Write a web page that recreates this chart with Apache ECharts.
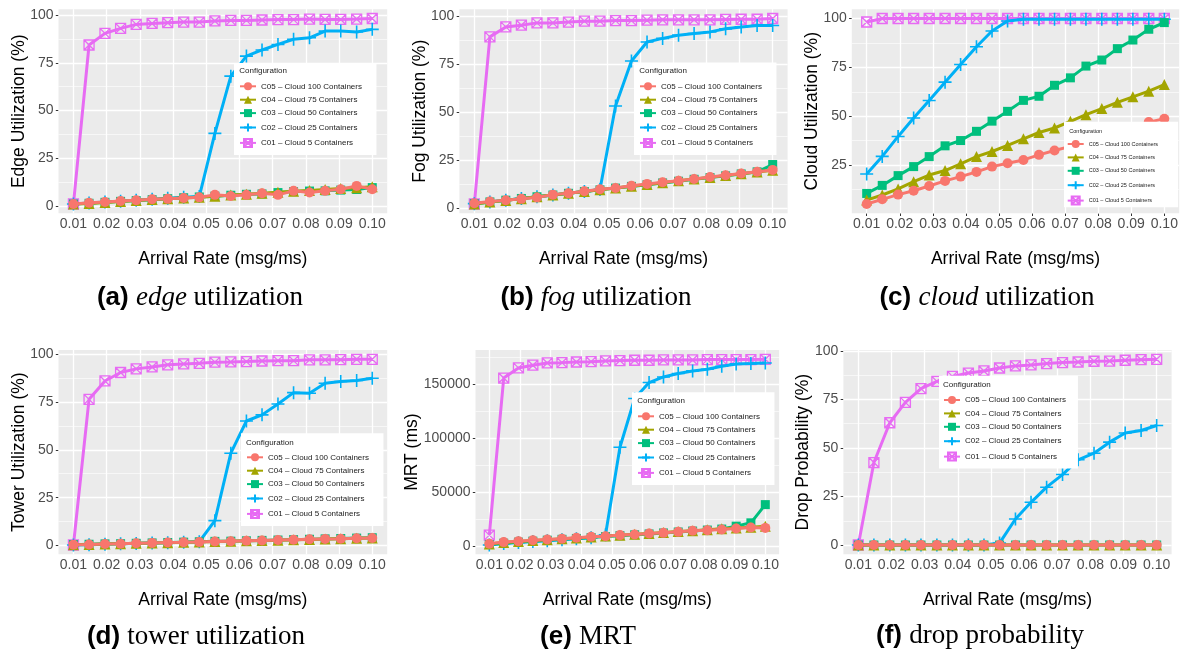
<!DOCTYPE html>
<html><head><meta charset="utf-8">
<script src="https://cdn.jsdelivr.net/npm/echarts@6/dist/echarts.min.js"></script>
<style>html,body{margin:0;padding:0;background:#fff}#c{width:1184px;height:655px}</style>
</head><body><div id="c"></div>
<script>
// ---------- DATA ----------
const arrivalRates = [0.0100,0.0147,0.0195,0.0242,0.0289,0.0337,0.0384,0.0432,0.0479,0.0526,0.0574,0.0621,0.0668,0.0716,0.0763,0.0811,0.0858,0.0905,0.0953,0.1000];
const seriesNames = ['C05 – Cloud 100 Containers','C04 – Cloud 75 Containers','C03 – Cloud 50 Containers','C02 – Cloud 25 Containers','C01 – Cloud 5 Containers'];
const xTicks = [0.01,0.02,0.03,0.04,0.05,0.06,0.07,0.08,0.09,0.10];
const pctTicks = [0,25,50,75,100];
const cloudTicks = [25,50,75,100];
const mrtTicks = [0,50000,100000,150000];

// (a) edge utilization
const edgeC05 = [1.0,1.7,2.1,2.6,3.0,3.5,3.7,4.2,4.5,5.8,5.2,5.8,6.6,5.8,7.9,7.0,7.9,8.7,10.5,8.7];
const edgeC04 = [1.0,1.3,1.8,2.3,2.9,3.4,3.8,4.2,4.6,5.1,5.7,6.1,6.7,7.2,7.7,8.1,8.6,9.1,9.5,10.0];
const edgeC03 = [1.0,1.4,1.9,2.4,2.8,3.3,3.8,4.3,4.7,5.1,5.6,6.1,6.3,7.0,7.5,7.8,7.9,8.3,8.6,9.6];
const edgeC02 = [1.0,1.5,2.0,2.5,3.0,3.5,4.0,4.5,4.9,38.0,68.0,78.5,81.7,84.6,87.3,88.1,91.6,91.6,91.1,92.5];
const edgeC01 = [1.0,84.3,90.4,93.0,95.1,95.6,96.0,96.3,96.3,96.9,97.2,97.2,97.4,97.6,97.6,97.9,97.7,97.7,97.9,98.2];
// (b) fog utilization
const fogC05 = [2.4,3.3,4.0,4.7,5.4,6.9,7.6,8.7,9.7,10.4,11.5,12.5,13.4,14.1,15.1,16.1,17.0,17.9,18.8,19.8];
const fogC04 = [2.0,3.0,3.9,4.8,5.8,6.7,7.6,8.5,9.5,10.4,11.3,12.2,13.1,14.1,15.0,15.9,16.9,17.8,18.7,19.6];
const fogC03 = [2.2,3.1,4.0,4.9,5.8,6.7,7.6,8.5,9.4,10.3,11.2,12.1,13.0,13.9,14.9,15.8,16.7,17.7,18.8,22.6];
const fogC02 = [2.2,3.1,4.0,4.9,5.8,6.7,7.6,8.5,9.6,53.1,76.6,86.5,88.4,90.1,91.0,91.8,93.4,94.4,95.1,95.1];
const fogC01 = [2.0,89.2,94.4,95.3,96.5,96.5,96.9,97.4,97.4,97.7,97.7,97.9,98.1,98.1,98.1,98.1,98.3,98.4,98.4,98.8];
// (c) cloud utilization
const cloudC05 = [5.2,7.6,10.0,12.0,14.4,17.0,19.2,21.6,24.3,26.0,27.7,30.3,32.5,34.6,37.0,39.5,41.8,44.2,47.0,48.7];
const cloudC04 = [7.2,9.8,12.9,16.6,20.0,22.3,25.7,29.4,32.0,35.1,38.5,41.7,44.0,47.4,50.8,53.9,57.1,59.9,62.8,66.2];
const cloudC03 = [10.6,14.7,19.7,24.3,29.4,34.9,37.6,42.3,47.5,52.5,58.1,60.2,65.8,69.6,75.6,78.7,84.5,88.9,94.4,97.8];
const cloudC02 = [20.5,29.5,39.7,49.1,58.0,67.4,76.4,85.5,93.5,98.6,99.5,99.5,99.5,99.5,99.5,99.5,99.5,99.5,99.5,99.5];
const cloudC01 = [98.1,99.9,99.9,99.9,99.9,99.9,99.9,99.9,99.9,99.9,99.9,99.9,99.9,99.9,99.9,99.9,99.9,99.9,99.9,99.9];
// (d) tower utilization
const towerC05 = [0.5,0.6,0.8,1.0,1.2,1.4,1.6,1.7,1.9,2.1,2.3,2.5,2.7,2.9,3.1,3.3,3.5,3.6,3.8,4.0];
const towerC04 = [0.4,0.6,0.8,1.0,1.2,1.3,1.5,1.7,1.9,2.1,2.3,2.5,2.6,2.8,3.0,3.2,3.4,3.6,3.8,3.9];
const towerC03 = [0.5,0.7,0.9,1.0,1.2,1.4,1.6,1.8,2.0,2.2,2.3,2.5,2.7,2.9,3.1,3.3,3.5,3.7,3.9,4.1];
const towerC02 = [0.3,0.5,0.7,0.9,1.1,1.3,1.5,1.7,2.0,13.0,48.2,65.0,68.2,73.9,79.8,79.5,84.7,85.6,86.1,87.3];
const towerC01 = [0.3,76.3,85.9,90.3,92.2,93.2,94.3,94.8,95.1,95.7,95.8,96.0,96.3,96.5,96.5,96.9,96.9,97.0,97.2,97.2];
// (e) MRT (ms)
const mrtC05 = [2200,3700,4600,5500,6200,6800,7700,8600,9200,10200,10800,11700,12300,13200,14200,14800,15400,16300,17200,16900];
const mrtC04 = [2000,3300,4300,5200,6000,6800,7600,8500,9300,10100,11000,11800,12600,13500,14300,15100,16000,16800,17600,18500];
const mrtC03 = [1500,2700,3700,4600,5500,6300,7100,8000,8800,9700,10500,11300,12200,13100,14000,14900,15800,18500,21600,38500];
const mrtC02 = [1000,2300,3300,4200,5000,5900,6700,7700,10500,91800,137000,151800,157000,160200,162600,164200,166900,169100,169400,170000];
const mrtC01 = [10200,156000,165400,167900,170000,170300,170900,171200,171900,172200,172500,172500,172800,172800,172800,173100,173100,173100,173100,173400];
// (f) drop probability
const dropC05 = [0,0,0,0,0,0,0,0,0,0,0,0,0,0,0,0,0,0,0,0];
const dropC04 = [0,0,0,0,0,0,0,0,0,0,0,0,0,0,0,0,0,0,0,0];
const dropC03 = [0,0,0,0,0,0,0,0,0,0,0,0,0,0,0,0,0,0,0,0];
const dropC02 = [0,0,0,0,0,0,0,0,0,1.0,13.4,22.0,29.8,36.3,43.9,47.3,53.0,57.7,59.0,61.6];
const dropC01 = [0,42.5,63.0,73.5,80.6,84.3,86.9,88.6,89.7,91.2,92.3,92.8,93.5,94.0,94.3,94.7,94.8,95.2,95.5,95.7];

// ---------- STYLE / LAYOUT ----------
const SANS = 'Liberation Sans, Arial, Helvetica, sans-serif';
const SERIF = 'Liberation Serif, Times New Roman, serif';
const colors = ['#F8766D','#A3A500','#00BF7D','#00B0F6','#E76BF3'];
const PLUS = 'path://M0,5L10,5M5,0L5,10';
const BOXX = 'path://M0,0L10,0L10,10L0,10ZM0,0L10,10M10,0L0,10';
const symbolDefs = [
  {symbol:'circle', size:10, item:{color:colors[0], borderWidth:0}},
  {symbol:'triangle', size:11, item:{color:colors[1], borderWidth:0}},
  {symbol:'rect', size:9, item:{color:colors[2], borderWidth:0}},
  {symbol:PLUS, size:13, item:{color:'rgba(0,0,0,0)', borderColor:colors[3], borderWidth:1.6}},
  {symbol:BOXX, size:10, item:{color:'rgba(0,0,0,0)', borderColor:colors[4], borderWidth:1.3}}
];

const panels = [
  {data:[edgeC05,edgeC04,edgeC03,edgeC02,edgeC01], yName:'Edge Utilization (%)', yTicks:pctTicks,
   grid:{left:58.5,top:9.2,width:328.7,height:204.1}, yGap:30,
   legend:{left:234,top:63,padding:[19.3,14.5,7,5],font:8}, ltitle:[239.3,71],
   cap:{x:200,y:298,text:'{b|(a) }{i|edge }{n|utilization}'}},
  {data:[fogC05,fogC04,fogC03,fogC02,fogC01], yName:'Fog Utilization (%)', yTicks:pctTicks,
   grid:{left:459.4,top:9.2,width:328.2,height:204.1}, yGap:30.6,
   legend:{left:634,top:62.5,padding:[19.8,14.5,7,5],font:8}, ltitle:[639.3,71],
   cap:{x:596,y:298,text:'{b|(b) }{i|fog }{n|utilization}'}},
  {data:[cloudC05,cloudC04,cloudC03,cloudC02,cloudC01], yName:'Cloud Utilization (%)', yTicks:cloudTicks,
   grid:{left:851.8,top:9.2,width:327.4,height:204.1}, yGap:31,
   legend:{left:1064,top:121.7,padding:[18.3,20,1.6,2.7],font:5.5}, ltitle:[1069.3,131],
   cap:{x:987,y:298,text:'{b|(c) }{i|cloud }{n|utilization}'}},
  {data:[towerC05,towerC04,towerC03,towerC02,towerC01], yName:'Tower Utilization (%)', yTicks:pctTicks,
   grid:{left:58.5,top:350,width:328.7,height:204.3}, yGap:30,
   legend:{left:241,top:433.3,padding:[20,14.5,7,5],font:8}, ltitle:[246,442.3],
   cap:{x:196,y:637,text:'{b|(d) }{n|tower utilization}'}},
  {data:[mrtC05,mrtC04,mrtC03,mrtC02,mrtC01], yName:'MRT (ms)', yTicks:mrtTicks,
   grid:{left:475.5,top:350,width:303.6,height:204.3}, yGap:54.7,
   legend:{left:632,top:392.3,padding:[20,14.5,7,5],font:8}, ltitle:[637.3,401],
   cap:{x:588,y:637,text:'{b|(e) }{n|MRT}'}},
  {data:[dropC05,dropC04,dropC03,dropC02,dropC01], yName:'Drop Probability (%)', yTicks:pctTicks,
   grid:{left:843.4,top:350,width:328.2,height:204.3}, yGap:31.6,
   legend:{left:939,top:375.7,padding:[20.3,12,7,4],font:8}, ltitle:[943,385],
   cap:{x:980,y:636,text:'{b|(f) }{n|drop probability}'}}
];

const X_MIN = 0.0055, X_MAX = 0.1045;

function minorBreaks(ticks, lo, hi) {
  const step = ticks[1] - ticks[0];
  const out = [ticks[0] - step / 2];
  for (let i = 0; i < ticks.length - 1; i++) out.push((ticks[i] + ticks[i + 1]) / 2);
  out.push(ticks[ticks.length - 1] + step / 2);
  return out.filter(v => v > lo && v < hi);
}

const grids = [], xAxes = [], yAxes = [], series = [], legends = [], graphics = [];
panels.forEach((p, k) => {
  const all = [].concat(...p.data);
  const dmin = Math.min(...all), dmax = Math.max(...all);
  const ex = (dmax - dmin) * 0.05;
  const yMin = dmin - ex, yMax = dmax + ex;
  grids.push(Object.assign({show:true, backgroundColor:'#EBEBEB', borderWidth:0, containLabel:false}, p.grid));
  xAxes.push({
    type:'value', gridIndex:k, min:X_MIN, max:X_MAX,
    axisLine:{show:false},
    axisTick:{show:true, customValues:xTicks, length:2.7, lineStyle:{color:'#333', width:1}},
    axisLabel:{customValues:xTicks, formatter:v => v.toFixed(2), color:'#4D4D4D', fontSize:14, fontFamily:SANS, margin:3.5},
    splitLine:{show:false},
    name:'Arrival Rate (msg/ms)', nameLocation:'middle', nameGap:37, nameMoveOverlap:false,
    nameTextStyle:{fontSize:17.5, color:'#000', fontFamily:SANS}
  });
  yAxes.push({
    type:'value', gridIndex:k, min:yMin, max:yMax,
    axisLine:{show:false},
    axisTick:{show:true, customValues:p.yTicks, length:2.7, lineStyle:{color:'#333', width:1}},
    axisLabel:{customValues:p.yTicks, formatter:v => String(Math.round(v)), color:'#4D4D4D', fontSize:14, fontFamily:SANS, margin:5},
    splitLine:{show:false},
    name:p.yName, nameLocation:'middle', nameGap:p.yGap, nameMoveOverlap:false,
    nameTextStyle:{fontSize:17.5, color:'#000', fontFamily:SANS}
  });
  // panel grid lines (ggplot style: white major + thinner minor)
  const ml = [];
  xTicks.forEach(v => ml.push({xAxis:v, lineStyle:{width:1.3}}));
  minorBreaks(xTicks, X_MIN, X_MAX).forEach(v => ml.push({xAxis:v, lineStyle:{width:0.6}}));
  p.yTicks.forEach(v => { if (v > yMin && v < yMax) ml.push({yAxis:v, lineStyle:{width:1.3}}); });
  minorBreaks(p.yTicks, yMin, yMax).forEach(v => ml.push({yAxis:v, lineStyle:{width:0.6}}));
  series.push({
    type:'line', xAxisIndex:k, yAxisIndex:k, data:[], silent:true, z:1, animation:false,
    markLine:{silent:true, symbol:'none', z:1, animation:false, label:{show:false},
      lineStyle:{color:'#FFFFFF', type:'solid'}, emphasis:{disabled:true}, data:ml}
  });
  // data series (draw C01 first so C05 ends on top)
  for (let s = 4; s >= 0; s--) {
    const d = symbolDefs[s];
    series.push({
      type:'line', name:seriesNames[s], xAxisIndex:k, yAxisIndex:k,
      data:arrivalRates.map((x, i) => [x, p.data[s][i]]),
      symbol:d.symbol, symbolSize:d.size, showAllSymbol:true,
      lineStyle:{color:colors[s], width:3}, itemStyle:Object.assign({}, d.item),
      z:2 + (4 - s), animation:false, emphasis:{disabled:true}, silent:true
    });
  }
  legends.push({
    orient:'vertical', left:p.legend.left, top:p.legend.top, padding:p.legend.padding,
    itemWidth:16, itemHeight:10, itemGap:5.4, backgroundColor:'#FFFFFF',
    data:seriesNames.slice(), selectedMode:false, z:10,
    textStyle:{fontSize:p.legend.font, color:'#1A1A1A', fontFamily:SANS}
  });
  graphics.push({type:'text', x:p.ltitle[0], y:p.ltitle[1], z:100,
    style:{text:'Configuration', fontSize:p.legend.font, fontFamily:SANS, fill:'#1A1A1A', align:'left', verticalAlign:'middle'}});
  graphics.push({type:'text', x:p.cap.x, y:p.cap.y, z:100,
    style:{text:p.cap.text, align:'center', verticalAlign:'middle', fill:'#000',
      rich:{
        b:{fontFamily:SANS, fontWeight:'bold', fontSize:26, fill:'#000'},
        i:{fontFamily:SERIF, fontStyle:'italic', fontSize:27, fill:'#000'},
        n:{fontFamily:SERIF, fontSize:27, fill:'#000'}
      }}});
});

const chart = echarts.init(document.getElementById('c'), null, {renderer:'canvas'});
chart.setOption({
  backgroundColor:'#FFFFFF', animation:false,
  grid:grids, xAxis:xAxes, yAxis:yAxes, series:series, legend:legends,
  graphic:{elements:graphics}
});
</script></body></html>
